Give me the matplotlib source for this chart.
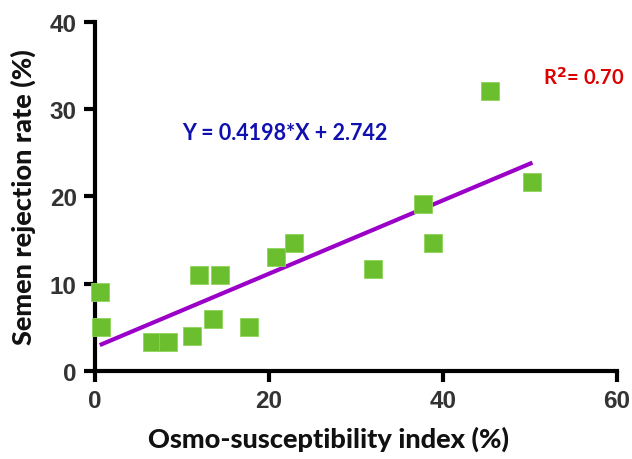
import matplotlib
matplotlib.use("Agg")
import matplotlib.pyplot as plt
import numpy as np

osmo_index = [0.57, 0.77, 6.6, 8.4, 11.2, 12.0, 13.6, 14.4, 17.7, 20.8, 22.95,
              32.0, 37.7, 38.9, 45.4, 50.3]
rejection_rate = [9.1, 5.1, 3.3, 3.3, 4.0, 11.0, 6.0, 11.0, 5.1, 13.1, 14.7,
                  11.7, 19.1, 14.7, 32.0, 21.6]
slope = 0.4198
intercept = 2.742
r_squared = "0.70"
x_ticks = [0, 20, 40, 60]
y_ticks = [0, 10, 20, 30, 40]

fig = plt.figure(figsize=(6.32, 4.6), dpi=100)
ax = fig.add_axes([0.150, 0.191, 0.826, 0.760])

xs = np.array([min(osmo_index), max(osmo_index)])
ax.plot(xs, slope * xs + intercept, color="#9A00C8", lw=3, solid_capstyle="butt", zorder=2)
ax.scatter(osmo_index, rejection_rate, marker="s", s=150, color="#6BBF2E",
           edgecolors="#8FD45A", linewidths=0.6, zorder=3, clip_on=False)

ax.set_xlim(0, 60)
ax.set_ylim(0, 40)
ax.set_xticks(x_ticks)
ax.set_yticks(y_ticks)
for s in ["top", "right"]:
    ax.spines[s].set_visible(False)
for s in ["left", "bottom"]:
    ax.spines[s].set_linewidth(3)
    ax.spines[s].set_color("black")
ax.tick_params(width=3, length=8, color="black", pad=5)
for lab in ax.get_xticklabels() + ax.get_yticklabels():
    lab.set_fontfamily("Liberation Sans")
    lab.set_fontweight("bold")
    lab.set_fontsize(17.5)
    lab.set_color("#333333")

ax.set_xlabel("Osmo-susceptibility index (%)", fontfamily="Lato", fontweight="black",
              fontsize=19.5, color="#111111", labelpad=15)
ax.xaxis.set_label_coords(0.447, -0.155)
ax.set_ylabel("Semen rejection rate (%)", fontfamily="Lato", fontweight="black",
              fontsize=19.5, color="#111111", labelpad=10)

ax.text(10.0, 27.3, f"Y = {slope}*X + {intercept}", fontfamily="Lato", fontweight="bold",
        fontsize=15.5, color="#1010B0", va="center", ha="left")
ax.text(51.5, 33.7, r"R$^\mathbf{2}$= " + r_squared, fontfamily="Lato", fontweight="bold",
        fontsize=14.5, color="#DD0000", va="center", ha="left")

fig.savefig("out.png", dpi=100)
